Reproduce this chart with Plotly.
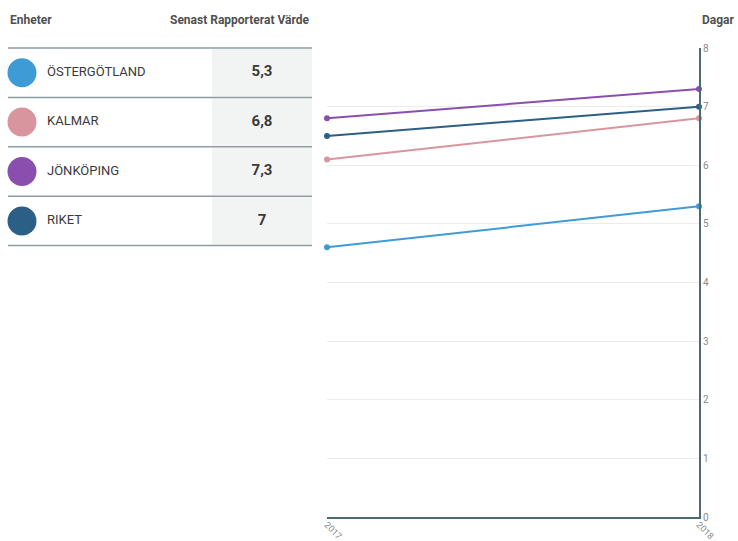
import plotly.graph_objects as go

# Data
years = [2017, 2018]
units = ["ÖSTERGÖTLAND", "KALMAR", "JÖNKÖPING", "RIKET"]
values_2017 = [4.6, 6.1, 6.8, 6.5]
values_2018 = [5.3, 6.8, 7.3, 7.0]
latest_labels = ["5,3", "6,8", "7,3", "7"]
colors = ["#3f9bd6", "#d9959e", "#8a4fae", "#2b5f86"]
y_ticks = [0, 1, 2, 3, 4, 5, 6, 7, 8]

W, H = 738, 541
AXIS_COLOR = "#4b6b72"
GRID_COLOR = "#ececec"
TEXT_COLOR = "#3a3a3a"
FONT = "Roboto"

fig = go.Figure()

# Line chart (right part)
for name, v17, v18, c in zip(units, values_2017, values_2018, colors):
    fig.add_trace(go.Scatter(
        x=years, y=[v17, v18], mode="lines+markers", name=name,
        line=dict(color=c, width=2), marker=dict(color=c, size=6),
        cliponaxis=False, showlegend=False, hoverinfo="x+y+name",
        xaxis="x", yaxis="y",
    ))

# Table (left part), drawn on a pixel-scaled overlay axis
row_top = 48
row_h = 49.4
row_centers = [row_top + row_h * (i + 0.5) for i in range(len(units))]

fig.add_trace(go.Scatter(
    x=[22] * len(units), y=row_centers, mode="markers",
    marker=dict(color=colors, size=29, line=dict(width=0)),
    showlegend=False, hoverinfo="skip", xaxis="x2", yaxis="y2",
))
fig.add_trace(go.Scatter(
    x=[47] * len(units), y=row_centers, mode="text", text=units,
    textposition="middle right",
    textfont=dict(family=FONT, size=13, color=TEXT_COLOR),
    showlegend=False, hoverinfo="skip", xaxis="x2", yaxis="y2",
))
fig.add_trace(go.Scatter(
    x=[262] * len(units), y=row_centers, mode="text",
    text=["<b>%s</b>" % t for t in latest_labels],
    textposition="middle center",
    textfont=dict(family=FONT, size=15, color=TEXT_COLOR),
    showlegend=False, hoverinfo="skip", xaxis="x2", yaxis="y2",
))

shapes = []
for i in range(len(units)):
    y0 = row_top + row_h * i
    shapes.append(dict(type="rect", xref="x2", yref="y2", x0=212, x1=312,
                       y0=y0 + 1, y1=y0 + row_h - 1,
                       fillcolor="#f2f4f4", line=dict(width=0), layer="below"))
for i in range(len(units) + 1):
    y = row_top + row_h * i
    shapes.append(dict(type="line", xref="x2", yref="y2", x0=8, x1=312,
                       y0=y, y1=y, line=dict(color="#8d9ca0", width=1.5)))

annotations = [
    dict(text="<b>Enheter</b>", x=8, y=20, xref="x2", yref="y2",
         xanchor="left", yanchor="middle", showarrow=False,
         font=dict(family=FONT, size=12, color="#505050")),
    dict(text="<b>Senast Rapporterat Värde</b>", x=312, y=20, xref="x2", yref="y2",
         xanchor="right", yanchor="middle", showarrow=False,
         font=dict(family=FONT, size=12, color="#505050")),
    dict(text="<b>Dagar</b>", x=718, y=20, xref="x2", yref="y2",
         xanchor="center", yanchor="middle", showarrow=False,
         font=dict(family=FONT, size=12, color="#505050")),
]

x0_px, x1_px = 327, 699
y0_px, y1_px = 517, 48

fig.update_layout(
    width=W, height=H,
    margin=dict(l=0, r=0, t=0, b=0, autoexpand=False),
    paper_bgcolor="white", plot_bgcolor="rgba(0,0,0,0)",
    font=dict(family=FONT),
    shapes=shapes, annotations=annotations,
    xaxis=dict(
        domain=[x0_px / W, x1_px / W], range=[2017, 2018],
        tickvals=years, ticktext=[str(y) for y in years], tickangle=45,
        tickfont=dict(family=FONT, size=9, color="#8a8a8a"),
        ticklabelstandoff=-3,
        showgrid=True, gridcolor=GRID_COLOR, gridwidth=1,
        showline=True, linecolor=AXIS_COLOR, linewidth=2,
        zeroline=False, ticks="", anchor="y", automargin=False,
    ),
    yaxis=dict(
        domain=[1 - y0_px / H, 1 - y1_px / H], range=[0, 8],
        side="right", tickvals=y_ticks,
        tickfont=dict(family=FONT, size=10, color="#8a8a8a"),
        showgrid=True, gridcolor=GRID_COLOR, gridwidth=1,
        showline=True, linecolor=AXIS_COLOR, linewidth=2,
        zeroline=False, ticks="", anchor="x", automargin=False,
    ),
    xaxis2=dict(domain=[0, 1], range=[0, W], visible=False, fixedrange=True,
                anchor="y2", automargin=False),
    yaxis2=dict(domain=[0, 1], range=[H, 0], visible=False, fixedrange=True,
                anchor="x2", automargin=False),
)

fig.write_html("out.html")
